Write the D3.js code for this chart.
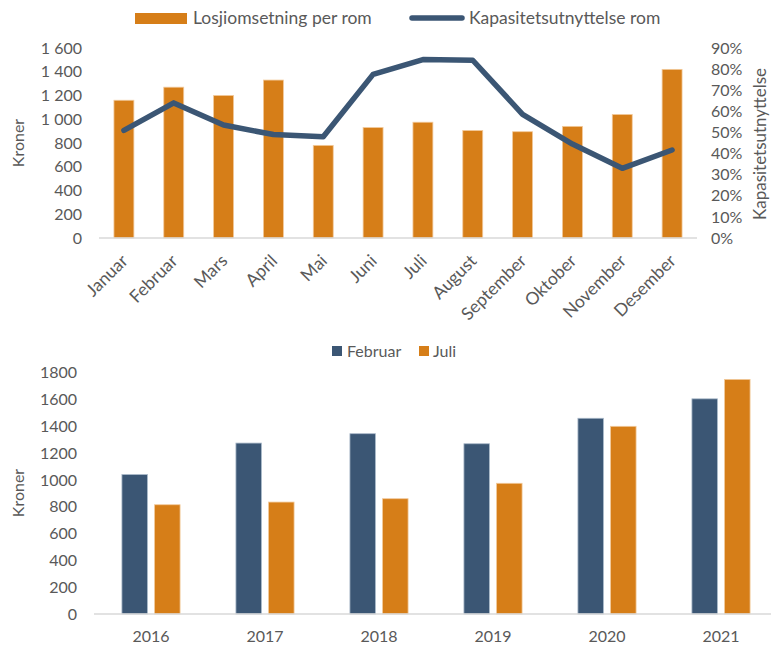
<!DOCTYPE html>
<html>
<head>
<meta charset="utf-8">
<script src="https://cdn.jsdelivr.net/npm/d3@7"></script>
<style>
  body { margin: 0; background: #fff; }
  svg text { font-family: Lato, "Open Sans", sans-serif; fill: #595959; }
</style>
</head>
<body>
<div id="chart"></div>
<script>
// top chart data
const months = ['Januar','Februar','Mars','April','Mai','Juni','Juli','August','September','Oktober','November','Desember'];
const revenue = [1160, 1270, 1200, 1330, 780, 930, 975, 905, 895, 940, 1040, 1420];
const occupancy = [0.51, 0.64, 0.535, 0.49, 0.48, 0.775, 0.845, 0.842, 0.586, 0.445, 0.33, 0.417];
const leftTicks = [0, 200, 400, 600, 800, 1000, 1200, 1400, 1600];
const rightTicks = [0, 0.1, 0.2, 0.3, 0.4, 0.5, 0.6, 0.7, 0.8, 0.9];

// bottom chart data
const years = ['2016','2017','2018','2019','2020','2021'];
const februar = [1040, 1275, 1345, 1270, 1460, 1605];
const juli = [815, 835, 860, 975, 1400, 1750];
const bottomTicks = [0, 200, 400, 600, 800, 1000, 1200, 1400, 1600, 1800];

const width = 771, height = 647;
const navy = '#3b5674', orange = '#d67e18', grid = '#d9d9d9';

const svg = d3.select('#chart').append('svg')
  .attr('width', width).attr('height', height);

/* ---------- Top chart ---------- */
const xTop = d3.scaleBand().domain(months).range([99, 697]).paddingInner(0.6).paddingOuter(0.3);
const yLeft = d3.scaleLinear().domain([0, 1600]).range([238, 48]);
const yRight = d3.scaleLinear().domain([0, 0.9]).range([238, 48]);

svg.append('g').selectAll('rect')
  .data(revenue).join('rect')
  .attr('x', (d, i) => xTop(months[i]))
  .attr('width', xTop.bandwidth())
  .attr('y', d => yLeft(d))
  .attr('height', d => yLeft(0) - yLeft(d))
  .attr('fill', orange).attr('stroke', '#f2c99a').attr('stroke-width', 0.8);

svg.append('line')
  .attr('x1', 99).attr('x2', 697).attr('y1', 238).attr('y2', 238)
  .attr('stroke', grid).attr('stroke-width', 1.5);

const line = d3.line()
  .x((d, i) => xTop(months[i]) + xTop.bandwidth() / 2)
  .y(d => yRight(d));
svg.append('path').datum(occupancy)
  .attr('d', line).attr('fill', 'none')
  .attr('stroke', navy).attr('stroke-width', 5.5)
  .attr('stroke-linecap', 'round').attr('stroke-linejoin', 'round');

svg.append('g').attr('transform', 'translate(82,0)')
  .call(d3.axisLeft(yLeft).tickValues(leftTicks).tickSize(0).tickPadding(0)
    .tickFormat(d => d3.format(',')(d).replace(',', ' ')))
  .call(ax => ax.select('.domain').remove())
  .selectAll('text').style('font-size', '16px');

svg.append('g').attr('transform', 'translate(711,0)')
  .call(d3.axisRight(yRight).tickValues(rightTicks).tickSize(0).tickPadding(0)
    .tickFormat(d3.format('.0%')))
  .call(ax => ax.select('.domain').remove())
  .selectAll('text').style('font-size', '16px');

svg.append('g').selectAll('text')
  .data(months).join('text')
  .attr('transform', d => `translate(${xTop(d) + xTop.bandwidth() / 2 + 5},${262}) rotate(-45)`)
  .attr('text-anchor', 'end')
  .attr('font-size', '17.5px')
  .text(d => d);

svg.append('text')
  .attr('transform', 'translate(24,143) rotate(-90)')
  .attr('text-anchor', 'middle').attr('font-size', '16px')
  .text('Kroner');

svg.append('text')
  .attr('transform', 'translate(766,144) rotate(-90)')
  .attr('text-anchor', 'middle').attr('font-size', '17px')
  .text('Kapasitetsutnyttelse');

// legend
svg.append('rect').attr('x', 135).attr('y', 13).attr('width', 52).attr('height', 11).attr('fill', orange);
svg.append('text').attr('x', 193).attr('y', 24).attr('font-size', '17.5px').text('Losjiomsetning per rom');
svg.append('line').attr('x1', 412).attr('x2', 462).attr('y1', 18).attr('y2', 18)
  .attr('stroke', navy).attr('stroke-width', 5.5).attr('stroke-linecap', 'round');
svg.append('text').attr('x', 469).attr('y', 24).attr('font-size', '17.5px').text('Kapasitetsutnyttelse rom');

/* ---------- Bottom chart ---------- */
const x0 = d3.scaleBand().domain(years).range([94, 778]).paddingInner(0.49).paddingOuter(0.245);
const x1 = d3.scaleBand().domain(['Februar', 'Juli']).range([0, x0.bandwidth()]).paddingInner(0.22);
const yB = d3.scaleLinear().domain([0, 1800]).range([614, 372.7]);

const groups = svg.append('g').selectAll('g')
  .data(years).join('g')
  .attr('transform', d => `translate(${x0(d)},0)`);

groups.append('rect')
  .attr('x', x1('Februar')).attr('width', x1.bandwidth())
  .attr('y', (d, i) => yB(februar[i]))
  .attr('height', (d, i) => yB(0) - yB(februar[i]))
  .attr('fill', navy).attr('stroke', '#a9b8c9').attr('stroke-width', 0.8);

groups.append('rect')
  .attr('x', x1('Juli')).attr('width', x1.bandwidth())
  .attr('y', (d, i) => yB(juli[i]))
  .attr('height', (d, i) => yB(0) - yB(juli[i]))
  .attr('fill', orange).attr('stroke', '#f2c99a').attr('stroke-width', 0.8);

svg.append('line')
  .attr('x1', 94).attr('x2', 771).attr('y1', 614).attr('y2', 614)
  .attr('stroke', grid).attr('stroke-width', 1.5);

svg.append('g').attr('transform', 'translate(77,0)')
  .call(d3.axisLeft(yB).tickValues(bottomTicks).tickSize(0).tickPadding(0).tickFormat(d => d))
  .call(ax => ax.select('.domain').remove())
  .selectAll('text').style('font-size', '16px');

svg.append('g').attr('transform', 'translate(0,614)')
  .call(d3.axisBottom(x0).tickSize(0).tickPadding(17))
  .call(ax => ax.select('.domain').remove())
  .selectAll('text').style('font-size', '16px');

svg.append('text')
  .attr('transform', 'translate(24,493) rotate(-90)')
  .attr('text-anchor', 'middle').attr('font-size', '16px')
  .text('Kroner');

// legend
svg.append('rect').attr('x', 332).attr('y', 346).attr('width', 10).attr('height', 10).attr('fill', navy);
svg.append('text').attr('x', 347).attr('y', 357).attr('font-size', '16px').text('Februar');
svg.append('rect').attr('x', 419).attr('y', 346).attr('width', 10).attr('height', 10).attr('fill', orange);
svg.append('text').attr('x', 433).attr('y', 357).attr('font-size', '16px').text('Juli');
</script>
</body>
</html>
